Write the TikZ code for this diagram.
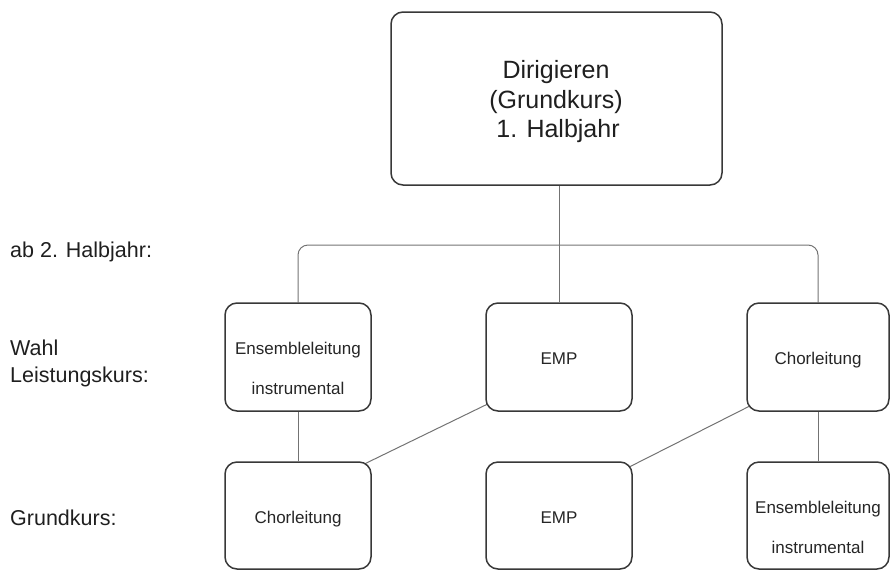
\documentclass[tikz,border=0pt]{standalone}
\usepackage{fontspec}
\setmainfont{Liberation Sans}
\usetikzlibrary{backgrounds}
\begin{document}
\begin{tikzpicture}[x=1pt,y=-1pt,
  box/.style={draw=black!78, line width=1.5pt, rounded corners=12pt, fill=white, inner sep=0pt},
  smallbox/.style={box, minimum width=146pt, minimum height=108pt},
  conn/.style={draw=black!55, line width=1pt},
  lbl/.style={anchor=base west, inner sep=0pt, font=\fontsize{21.5}{26}\selectfont, text=black!88},
  btxt/.style={anchor=base, inner sep=0pt, font=\fontsize{17}{20}\selectfont, text=black!85},
  ttxt/.style={anchor=base, inner sep=0pt, font=\fontsize{25}{30}\selectfont, text=black!88}]
\useasboundingbox (0,0) rectangle (891,571);

% boxes
\node[box, minimum width=331pt, minimum height=173pt] (top) at (556.5,98.5) {};
\node[smallbox] (mL) at (298,357) {};
\node[smallbox] (mM) at (559,357) {};
\node[smallbox, minimum width=142pt] (mR) at (818,357) {};
\node[smallbox, minimum height=107pt] (bL) at (298,515.5) {};
\node[smallbox, minimum height=107pt] (bM) at (559,515.5) {};
\node[smallbox, minimum width=142pt, minimum height=107pt] (bR) at (818,515.5) {};

% texts in boxes
\node[ttxt] (t1) at (556,78) {Dirigieren};
\node[ttxt] (t2) at (556,108) {(Grundkurs)};
\node[ttxt] (t3) at (558,137) {1. Halbjahr};
\node[btxt] (mLa) at (298,354) {Ensembleleitung};
\node[btxt] (mLb) at (298,394) {instrumental};
\node[btxt] (mMa) at (559,364) {EMP};
\node[btxt] (mRa) at (818,364) {Chorleitung};
\node[btxt] (bLa) at (298,523) {Chorleitung};
\node[btxt] (bMa) at (559,523) {EMP};
\node[btxt] (bRa) at (818,513) {Ensembleleitung};
\node[btxt] (bRb) at (818,553) {instrumental};

% row labels
\node[lbl] (l1) at (10,257) {ab 2. Halbjahr:};
\node[lbl] (l2) at (10,355) {Wahl};
\node[lbl] (l3) at (10,382) {Leistungskurs:};
\node[lbl] (l4) at (10,525) {Grundkurs:};

% connectors
\coordinate (bar) at (559,245);
\begin{scope}[on background layer]
  \draw[conn] (top.south -| bar) -- (mM.north);
  \draw[conn, rounded corners=10pt] (mL.north) |- (mR.north |- bar) -- (mR.north);
  \draw[conn] (mL.south) -- (bL.north);
  \draw[conn] (mR.south) -- (bR.north);
  \draw[conn] ([xshift=5pt,yshift=9pt]mM.south west) -- ([xshift=-10pt,yshift=-4pt]bL.north east);
  \draw[conn] ([xshift=6pt,yshift=7pt]mR.south west) -- ([xshift=-8pt,yshift=-8pt]bM.north east);
\end{scope}
\end{tikzpicture}
\end{document}
